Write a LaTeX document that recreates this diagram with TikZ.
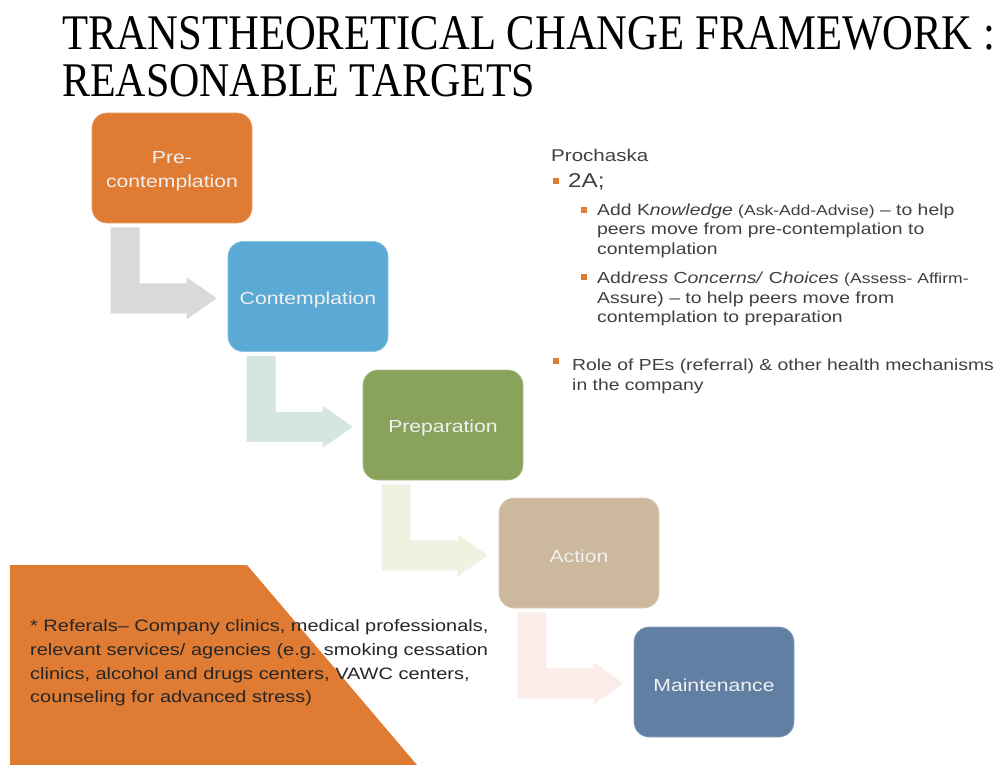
\documentclass[tikz,border=0pt]{standalone}
\usepackage{fontspec}
\setmainfont{Liberation Serif}
\newfontfamily\bodyfont[FakeStretch=1.21]{Liberation Sans}
\definecolor{orng}{HTML}{E07B33}
\definecolor{cblue}{HTML}{5BAAD6}
\definecolor{cgreen}{HTML}{8AA35C}
\definecolor{ctan}{HTML}{CCB89D}
\definecolor{cslate}{HTML}{617FA2}
\definecolor{arA}{HTML}{D9D9D9}
\definecolor{arB}{HTML}{D5E6E0}
\definecolor{arC}{HTML}{EEF3E1}
\definecolor{arD}{HTML}{FBEEEA}
\definecolor{txt}{HTML}{404040}
\definecolor{txtdark}{HTML}{262626}
\newcommand{\lowertxt}[1]{\raisebox{-3pt}[\height][\depth]{#1}}
\begin{document}
\begin{tikzpicture}[x=1pt,y=-1pt,
  stage/.style={rounded corners=15pt, minimum width=160pt, minimum height=110pt,
    inner sep=0pt, text=white!94!black, align=center, fill=#1, draw=#1!70!white, line width=0.6pt,
    font=\bodyfont\fontsize{17.5}{24}\selectfont},
  rt/.style={inner sep=0pt, text=txt, align=left, font=\bodyfont\fontsize{16}{19.6}\selectfont},
  bul/.style={fill=orng, minimum size=5.5pt, inner sep=0pt}]
\useasboundingbox (0,0) rectangle (999,765);
\fill[white] (0,0) rectangle (999,765);

% title
\node[anchor=base west, inner sep=0pt] (t1) at (62,50) {\resizebox{933pt}{33pt}{TRANSTHEORETICAL CHANGE FRAMEWORK :}};
\node[anchor=base west, inner sep=0pt] (t2) at (62,97) {\resizebox{473pt}{32pt}{REASONABLE TARGETS}};

% stages
\node[stage=orng] (pre) at (172,168) {\lowertxt{\begin{tabular}{@{}c@{}}Pre-\\contemplation\end{tabular}}};
\node[stage=cblue] (con) at (308,296.5) {\lowertxt{Contemplation}};
\node[stage=cgreen] (prep) at (443,425) {\lowertxt{Preparation}};
\node[stage=ctan] (act) at (579,553) {\lowertxt{Action}};
\node[stage=cslate] (mnt) at (714,682) {\lowertxt{Maintenance}};

% bent arrows
\fill[arA, shift={(pre.south west)}] (19,4) -- (48,4) -- (48,60) -- (95,60) -- (95,54) -- (125,75) -- (95,96) -- (95,90) -- (19,90) -- cycle;
\fill[arB, shift={(con.south west)}] (19,4) -- (48,4) -- (48,60) -- (95,60) -- (95,54) -- (125,75) -- (95,96) -- (95,90) -- (19,90) -- cycle;
\fill[arC, shift={(prep.south west)}] (19,4) -- (48,4) -- (48,60) -- (95,60) -- (95,54) -- (125,75) -- (95,96) -- (95,90) -- (19,90) -- cycle;
\fill[arD, shift={(act.south west)}] (19,4) -- (48,4) -- (48,60) -- (95,60) -- (95,54) -- (125,75) -- (95,96) -- (95,90) -- (19,90) -- cycle;

% orange corner shape
\fill[orng] (10,565) -- (247,565) -- (417,765) -- (10,765) -- cycle;
\node[anchor=north west, inner sep=0pt, text=txtdark, align=left,
  font=\bodyfont\fontsize{16.5}{23.7}\selectfont] (ref) at (30,619.5)
  {* Referals– Company clinics, medical professionals,\\
   relevant services/ agencies (e.g. smoking cessation\\
   clinics, alcohol and drugs centers, VAWC centers,\\
   counseling for advanced stress)};

% right text
\node[rt, anchor=west, font=\bodyfont\fontsize{17}{20}\selectfont] (proch) at (551,155) {Prochaska};
\node[bul] (b1) at (556,181) {};
\node[rt, anchor=west, font=\bodyfont\fontsize{20}{22}\selectfont] (twoA) at (568,182) {2A;};
\node[bul] (b2) at (584,210) {};
\node[rt, anchor=north west] (k1) at (597,203.5)
  {Add K\textit{nowledge} {\fontsize{14.5}{19.6}\selectfont(Ask-Add-Advise)} – to help\\
   peers move from pre-contemplation to\\
   contemplation};
\node[bul] (b3) at (584,277) {};
\node[rt, anchor=north west] (k2) at (597,272)
  {Add\textit{ress} C\textit{oncerns/} C\textit{hoices} {\fontsize{14.5}{19.6}\selectfont(Assess- Affirm-}\\
   Assure) – to help peers move from\\
   contemplation to preparation};
\node[bul] (b4) at (556,361) {};
\node[rt, anchor=north west] (k3) at (572,359)
  {Role of PEs (referral) \& other health mechanisms\\
   in the company};
\end{tikzpicture}
\end{document}
